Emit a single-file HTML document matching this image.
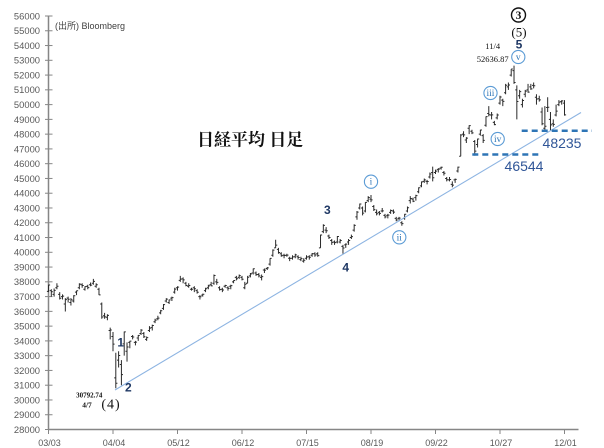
<!DOCTYPE html>
<html><head><meta charset="utf-8"><style>
html,body{margin:0;padding:0;background:#fff;}
svg{display:block;}
</style></head><body>
<svg id="c" width="604" height="448" viewBox="0 0 604 448" xmlns="http://www.w3.org/2000/svg">
<rect width="604" height="448" fill="#fff"/>
<g id="axes"></g>
<path id="bars" fill="none" stroke="#2a2a2a" stroke-width="1"/>
<line x1="115" y1="390" x2="581" y2="112.5" stroke="#8db4e2" stroke-width="1.1"/>
<line x1="521.7" y1="130.7" x2="592" y2="130.7" stroke="#2e75b6" stroke-width="2.5" stroke-dasharray="6,4"/>
<line x1="472.3" y1="154.5" x2="541" y2="154.5" stroke="#2e75b6" stroke-width="2.5" stroke-dasharray="6,4"/>
<text x="562" y="147.8" font-family="Liberation Sans, sans-serif" font-size="14" fill="#2f5597" text-anchor="middle">48235</text>
<text x="524" y="170.8" font-family="Liberation Sans, sans-serif" font-size="14" fill="#2f5597" text-anchor="middle">46544</text>
<text x="55" y="29" font-family="Liberation Sans, 'Noto Sans CJK JP', sans-serif" font-size="9" fill="#404040">(出所) Bloomberg</text>
<text x="197" y="145.5" font-family="'Liberation Serif','Noto Serif CJK SC',serif" font-weight="bold" font-size="17" fill="#111">日経平均 日足</text>
<g font-family="Liberation Sans, sans-serif" font-weight="bold" font-size="12" fill="#1f3864" text-anchor="middle">
<text x="120.7" y="346.5">1</text>
<text x="128.3" y="391.5">2</text>
<text x="327.3" y="214.2">3</text>
<text x="345.7" y="271.5">4</text>
<text x="519" y="48.5">5</text>
</g>
<g font-family="Liberation Serif, serif" fill="#111" text-anchor="middle">
<text x="89.3" y="397.5" font-size="7" font-weight="bold">30792.74</text>
<text x="87" y="407.5" font-size="7.5" font-weight="bold">4/7</text>
<text x="111" y="408.5" font-size="14" letter-spacing="1">(4)</text>
<text x="492.7" y="49" font-size="8.5">11/4</text>
<text x="492.7" y="62" font-size="8.5">52636.87</text>
<text x="519" y="36.5" font-size="13">(5)</text>
<circle cx="518.5" cy="15" r="7" fill="none" stroke="#111" stroke-width="1.4"/>
<text x="518.5" y="19.2" font-size="11.5" font-weight="bold">3</text>
</g>
<g id="rn" font-family="Liberation Serif, serif" font-size="9.5" fill="#2e75b6" text-anchor="middle"></g>
</svg>
<script>
(function(){
var D=[
[37350,37800,37300,37785],[37400,37500,37000,37331],[37150,37550,37000,37418],[37600,37900,37500,37704],[37150,37300,36800,36887],
[37000,37150,36800,37028],[36500,36900,35990,36793],[36900,37000,36600,36819],[36600,36900,36400,36790],[36700,37100,36600,37053],
[37300,37400,37100,37396],[37600,37900,37500,37845],[37800,37900,37600,37751],[37500,37700,37400,37677],[37700,37800,37500,37608],
[37800,37950,37700,37780],[37900,38200,37800,38027],[37700,37900,37600,37799],[37500,37600,37100,37120],[36500,36600,35500,35617],
[35700,35900,35500,35624],[35600,35800,35400,35725],[34700,34900,34100,34735],[34300,34600,33300,33780],[31500,33200,30792,31136],
[32700,33300,32200,33012],[32400,32700,31000,31714],[33800,34640,33000,34609],[33300,33900,32600,33585],[33900,34000,33500,33982],
[34300,34400,34100,34267],[33900,34000,33700,33920],[34200,34400,34000,34377],[34500,34800,34400,34730],[34500,34600,34200,34279],
[34100,34300,34000,34220],[34700,35000,34600,34868],[34900,35100,34700,35039],[35300,35500,35200,35405],[35500,35700,35400,35539],
[35900,36100,35800,36045],[36200,36500,36100,36452],[36700,36900,36600,36830],[36600,36800,36500,36779],[36900,37000,36700,36928],
[37300,37600,37200,37503],[37600,37700,37400,37644],[38100,38400,38000,38183],[38200,38300,37900,38128],[37900,38000,37700,37755],
[37700,37900,37600,37753],[37500,37600,37400,37498],[37600,37700,37300,37529],[37400,37500,37200,37298],[37000,37100,36800,36985],
[37100,37200,37000,37160],[37400,37600,37300,37531],[37600,37800,37500,37724],[37800,38000,37700,37722],[37900,38500,37800,38432],
[38000,38200,37800,37965],[37600,37700,37400,37470],[37500,37600,37300,37446],[37700,37800,37600,37747],[37600,37700,37400,37554],
[37700,37800,37500,37741],[38000,38100,37900,38088],[38300,38400,38100,38211],[38300,38500,38200,38421],[38300,38400,38100,38173],
[37600,38000,37500,37834],[37900,38400,37900,38311],[38400,38600,38300,38536],[38600,38900,38500,38885],[38600,38700,38400,38488],
[38500,38600,38300,38403],[38300,38500,38100,38354],[38800,38900,38600,38790],[38900,39000,38800,38942],[39200,39600,39100,39584],
[39800,40200,39700,40150],[40300,40850,40300,40487],[40200,40300,39900,39986],[39900,40000,39700,39762],[39800,39900,39600,39785],
[39800,39900,39700,39810],[39600,39700,39400,39587],[39600,39800,39500,39688],[39700,39900,39600,39821],[39700,39800,39500,39646],
[39500,39700,39400,39569],[39400,39600,39300,39459],[39600,39800,39500,39678],[39700,39800,39500,39663],[39800,39950,39700,39901],
[39900,40000,39700,39819],[39900,40000,39700,39774],[40300,41200,40300,41171],[41400,41900,41300,41826],[41500,41700,41300,41456],
[41100,41200,40900,40998],[40800,40900,40500,40674],[40700,40800,40500,40654],[40700,41100,40600,41069],[40700,40900,40600,40799],
[40400,40500,39900,40290],[40500,40600,40300,40549],[40700,40900,40500,40794],[41000,41200,40900,41059],[41500,41900,41400,41820],
[42400,42800,42200,42718],[43000,43300,42900,43274],[43000,43100,42500,42649],[42800,43400,42700,43378],[43500,43800,43400,43714],
[43600,43876,43400,43546],[43100,43200,42800,42888],[42700,42900,42500,42610],[42700,42800,42500,42633],[42800,43000,42700,42807],
[42500,42600,42300,42394],[42500,42600,42300,42520],[42700,42900,42600,42828],[42800,42900,42600,42718],[42300,42400,42100,42188],
[42300,42400,42100,42310],[42000,42100,41800,41938],[42300,42600,42200,42580],[42800,43100,42700,43018],[43500,43800,43300,43643],
[43600,43700,43400,43459],[43700,43900,43500,43837],[44100,44400,44000,44372],[44500,44800,44400,44768],[44800,45000,44700,44902],
[44800,44900,44600,44790],[45100,45400,45000,45303],[45400,45800,44800,45045],[45400,45600,45300,45493],[45600,45700,45400,45630],
[45700,45800,45600,45754],[45400,45500,45200,45354],[45000,45100,44800,44913],[44900,45100,44800,44932],[44600,44800,44400,44550],
[44900,45000,44700,44936],[45500,45800,45400,45769],[46500,48000,46500,47944],[48000,48200,47800,47950],[47600,47800,47400,47734],
[48400,48600,48000,48580],[48200,48300,48000,48088],[47500,47600,46544,46847],[47300,47700,47100,47672],[48000,48300,47900,48277],
[47900,48000,47400,47582],[48600,49200,48500,49185],[49400,49900,49200,49316],[49300,49500,49000,49307],[48800,48900,48600,48641],
[49100,49400,49000,49299],[50100,50600,50000,50512],[50300,50400,49900,50219],[50800,51400,50700,51307],[51200,51500,51000,51325],
[52000,52400,51900,52411],[52300,52637,51400,51497],[51000,51300,49000,50212],[50600,51000,50400,50883],[50000,50400,49800,50276],
[50700,51000,50500,50911],[51000,51400,50800,50842],[51200,51400,51000,51063],[51300,51500,51100,51281],[50500,50700,50000,50376],
[50400,50600,50200,50323],[49500,49800,48600,48702],[48400,49900,48250,48537],[49800,50500,49500,49823],[49000,49500,48235,48625],
[48700,49000,48500,48659],[49300,50000,49200,49559],[50000,50300,49900,50167],[50200,50300,50000,50253],[50100,50300,49250,49303]
];
function X(i){return 48.5+i*64.5/23;}
function Y(v){return 16+(56000-v)*0.014768;}
var p='';
for(var i=0;i<D.length;i++){var d=D[i],x=X(i);
p+='M'+x.toFixed(2)+' '+Y(d[1]).toFixed(2)+'V'+Y(d[2]).toFixed(2);
p+='M'+(x-1.6).toFixed(2)+' '+Y(d[0]).toFixed(2)+'H'+x.toFixed(2);
p+='M'+x.toFixed(2)+' '+Y(d[3]).toFixed(2)+'H'+(x+1.6).toFixed(2);}
document.getElementById('bars').setAttribute('d',p);
var a='';
a+='<line x1="48.5" y1="16" x2="48.5" y2="430" stroke="#868686" stroke-width="1.5"/>';
a+='<line x1="48.5" y1="429.5" x2="578.5" y2="429.5" stroke="#868686" stroke-width="1.5"/>';
for(var k=0;k<=28;k++){var v=56000-k*1000,y=Y(v);
a+='<line x1="45" y1="'+y.toFixed(2)+'" x2="52.5" y2="'+y.toFixed(2)+'" stroke="#868686" stroke-width="1"/>';
a+='<text x="40" y="'+(y+3.4).toFixed(2)+'" font-family="Liberation Sans, sans-serif" font-size="9.4" fill="#595959" text-anchor="end">'+v+'</text>';}
var L=['03/03','04/04','05/12','06/12','07/15','08/19','09/22','10/27','12/01'];
for(var j=0;j<L.length;j++){var x=48.5+j*64.5;
a+='<line x1="'+x+'" y1="429" x2="'+x+'" y2="434" stroke="#868686" stroke-width="1"/>';
a+='<text x="'+(x+1)+'" y="445.8" font-family="Liberation Sans, sans-serif" font-size="9" fill="#595959" text-anchor="middle">'+L[j]+'</text>';}
document.getElementById('axes').innerHTML=a;
var R=[['i',371,181.7],['ii',399.3,237.3],['iii',490.5,93],['iv',497.7,139],['v',518.3,57]];
var r='';
for(var m=0;m<R.length;m++){var q=R[m];
r+='<circle cx="'+q[1]+'" cy="'+q[2]+'" r="6.6" fill="#fff" stroke="#5b9bd5" stroke-width="1.1"/>';
r+='<text x="'+q[1]+'" y="'+(q[2]+3)+'">'+q[0]+'</text>';}
document.getElementById('rn').innerHTML=r;
})();
</script>
</body></html>
